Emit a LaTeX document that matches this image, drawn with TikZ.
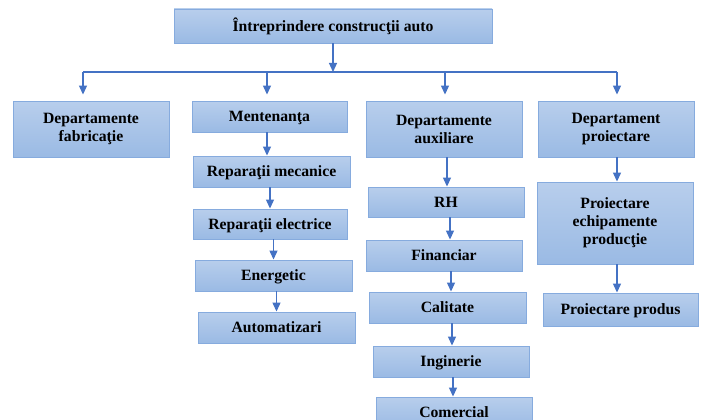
\documentclass[tikz,border=0pt]{standalone}
\usepackage{fontspec}
\setmainfont{Liberation Serif}
\usetikzlibrary{arrows.meta}
\definecolor{filltop}{HTML}{B8CEEC}
\definecolor{fillbot}{HTML}{9ABAE4}
\definecolor{edgeblue}{HTML}{86ABDE}
\definecolor{arrowblue}{HTML}{4472C4}
\tikzset{
  unit/.style={draw=edgeblue, line width=0.9pt, top color=filltop, bottom color=fillbot,
    align=center, inner sep=0pt, text=black,
    font=\fontsize{15.7}{18}\selectfont\bfseries},
  oneline/.style={unit, text height=10.3pt, text depth=0pt},
  link/.style={draw=arrowblue, line width=1.2pt, -{Triangle[width=8pt,length=9pt]}},
  bus/.style={draw=arrowblue, line width=1.2pt}
}
\begin{document}
\begin{tikzpicture}[x=1pt,y=-1pt]
\useasboundingbox (0,0) rectangle (704,420);
\clip (0,0) rectangle (704,420);
\fill[white] (0,0) rectangle (704,420);

% top level
\node[oneline, minimum width=318pt, minimum height=34pt] (top) at (333,26) {Întreprindere construcţii auto};

% departments
\node[unit, minimum width=156pt, minimum height=56pt] (fab) at (91,129) {Departamente\\fabricaţie};
\node[oneline, minimum width=155pt, minimum height=31pt] (ment) at (269.5,116.5) {Mentenanţa};
\node[unit, minimum width=156pt, minimum height=56pt] (aux) at (444,129) {Departamente\\auxiliare};
\node[unit, minimum width=156pt, minimum height=56pt] (proj) at (616,129) {Departament\\proiectare};

% maintenance
\node[oneline, minimum width=157pt, minimum height=31pt] (mec) at (271.5,171.5) {Reparaţii mecanice};
\node[oneline, minimum width=154pt, minimum height=30pt] (ele) at (270,224) {Reparaţii electrice};
\node[oneline, minimum width=157pt, minimum height=31pt] (ener) at (273.5,275.5) {Energetic};
\node[oneline, minimum width=157pt, minimum height=31pt] (autom) at (276.5,327.5) {Automatizari};

% auxiliary departments
\node[oneline, minimum width=156pt, minimum height=30pt] (rh) at (446,202) {RH};
\node[oneline, minimum width=156pt, minimum height=31pt] (fin) at (444,255.5) {Financiar};
\node[oneline, minimum width=157pt, minimum height=31pt] (cal) at (447.5,307.5) {Calitate};
\node[oneline, minimum width=156pt, minimum height=31pt] (ing) at (451,361.5) {Inginerie};
\node[oneline, minimum width=156pt, minimum height=31pt] (com) at (454,412.5) {Comercial};

% design
\node[unit, minimum width=156pt, minimum height=82pt] (pech) at (615,223) {Proiectare\\echipamente\\producţie};
\node[oneline, minimum width=155pt, minimum height=33pt] (pprod) at (620.5,309.5) {Proiectare produs};

% distribution bus
\coordinate (hub) at (333,72);
\coordinate (b1) at (83,72);
\coordinate (b2) at (267,72);
\coordinate (b3) at (445,72);
\coordinate (b4) at (617,72);
\draw[link] (top.south) -- (hub);
\draw[bus] (b1) -- (b4);
\draw[link, shorten >=6pt] (b1) -- (b1 |- fab.north);
\draw[link, shorten >=6pt] (b2) -- (b2 |- ment.north);
\draw[link, shorten >=6pt] (b3) -- (b3 |- aux.north);
\draw[link, shorten >=6pt] (b4) -- (b4 |- proj.north);

% chains
\draw[link] (ment.south -| 267,0) -- (mec.north -| 267,0);
\draw[link] (mec.south -| ele.north) -- (ele.north);
\draw[link] (ele.south -| ener.north) -- (ener.north);
\draw[link] (ener.south -| autom.north) -- (autom.north);

\draw[link] (aux.south -| 447,0) -- (rh.north -| 447,0);
\draw[link] (rh.south -| 450,0) -- (fin.north -| 450,0);
\draw[link] (fin.south -| 451,0) -- (cal.north -| 451,0);
\draw[link] (cal.south -| 452,0) -- (ing.north -| 452,0);
\draw[link] (ing.south -| 453,0) -- (com.north -| 453,0);

\draw[link] (proj.south -| 617,0) -- (pech.north -| 617,0);
\draw[link] (pech.south -| 617,0) -- (pprod.north -| 617,0);
\end{tikzpicture}
\end{document}
